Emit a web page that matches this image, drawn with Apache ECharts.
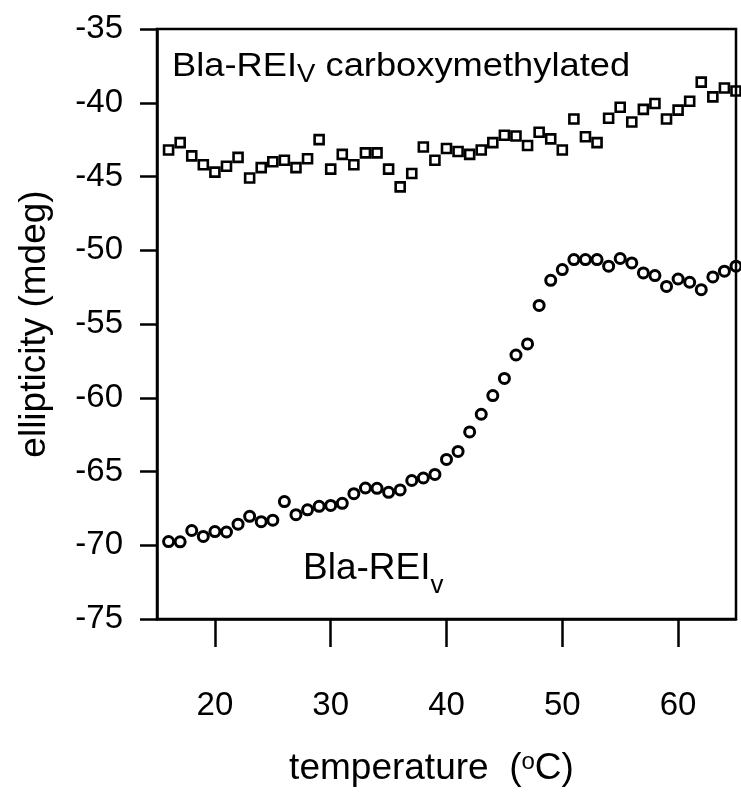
<!DOCTYPE html>
<html>
<head>
<meta charset="utf-8">
<script src="https://cdn.jsdelivr.net/npm/echarts@6/dist/echarts.min.js"></script>
<style>
html,body{margin:0;padding:0;background:#fff;}
#chart{width:741px;height:799px;}
</style>
</head>
<body>
<div id="chart"></div>
<script>
// temperature (°C)
var temperature = [16,17,18,19,20,21,22,23,24,25,26,27,28,29,30,31,32,33,34,35,36,37,38,39,40,41,42,43,44,45,46,47,48,49,50,51,52,53,54,55,56,57,58,59,60,61,62,63,64,65];
// ellipticity (mdeg), Bla-REIv carboxymethylated (squares)
var carboxymethylated = [-43.2,-42.7,-43.6,-44.2,-44.7,-44.3,-43.7,-45.1,-44.4,-44.0,-43.9,-44.4,-43.8,-42.5,-44.5,-43.5,-44.2,-43.4,-43.4,-44.5,-45.7,-44.8,-43.0,-43.9,-43.1,-43.3,-43.5,-43.2,-42.7,-42.2,-42.25,-42.9,-42.0,-42.45,-43.2,-41.1,-42.3,-42.7,-41.05,-40.3,-41.3,-40.45,-40.05,-41.1,-40.5,-39.9,-38.6,-39.6,-39.0,-39.2];
// ellipticity (mdeg), Bla-REIv (circles)
var blaREIv = [-69.75,-69.77,-69.0,-69.4,-69.07,-69.1,-68.57,-68.04,-68.4,-68.3,-67.04,-67.93,-67.6,-67.36,-67.3,-67.16,-66.5,-66.12,-66.14,-66.41,-66.25,-65.61,-65.44,-65.2,-64.18,-63.64,-62.32,-61.12,-59.85,-58.69,-57.1,-56.35,-53.74,-52.04,-51.31,-50.63,-50.63,-50.63,-51.08,-50.56,-50.86,-51.54,-51.72,-52.45,-51.95,-52.17,-52.67,-51.81,-51.42,-51.08];
var xTicks = [20,30,40,50,60];
var yMin = -75, yMax = -35, yStep = 5;
var xMin = 15, xMax = 65;

var FONT = '"Liberation Sans", Arial, Helvetica, sans-serif';

function pairs(xs, ys){ return xs.map(function(x,i){ return [x, ys[i]]; }); }

var chart = echarts.init(document.getElementById('chart'), null, {renderer:'canvas'});
chart.setOption({
  animation: false,
  backgroundColor: '#fff',
  grid: {left:157, right:5, top:29, bottom:180, show:true, borderColor:'#000', borderWidth:2.5, backgroundColor:'transparent'},
  xAxis: {
    type:'value', min:xMin, max:xMax,
    splitLine:{show:false},
    axisLine:{show:true, onZero:false, lineStyle:{color:'#000', width:2.5}},
    axisTick:{show:true, inside:false, length:28, customValues:xTicks, lineStyle:{color:'#000', width:2.5}},
    axisLabel:{show:true, customValues:xTicks, margin:70, fontSize:33, color:'#000', fontFamily:FONT},
    name:'{a|temperature  (}{s|o}{a|C)}',
    nameLocation:'middle', nameGap:131,
    nameTextStyle:{
      padding:[0,30,0,0],
      rich:{
        a:{fontSize:37, fontFamily:FONT, color:'#000', verticalAlign:'top'},
        s:{fontSize:24, fontFamily:FONT, color:'#000', verticalAlign:'top'}
      }
    }
  },
  yAxis: {
    type:'value', min:yMin, max:yMax, interval:yStep,
    splitLine:{show:false},
    axisLine:{show:true, onZero:false, lineStyle:{color:'#000', width:2.5}},
    axisTick:{show:true, inside:false, length:17, lineStyle:{color:'#000', width:2.5}},
    axisLabel:{show:true, margin:34, fontSize:33, color:'#000', fontFamily:FONT},
    name:'ellipticity (mdeg)', nameLocation:'middle', nameGap:104, nameRotate:90,
    nameTextStyle:{fontSize:37, fontFamily:FONT, color:'#000'}
  },
  series: [
    {
      name:'Bla-REIv carboxymethylated', type:'scatter', symbol:'rect', symbolSize:9,
      data: pairs(temperature, carboxymethylated),
      itemStyle:{color:'rgba(0,0,0,0)', borderColor:'#000', borderWidth:2.6, opacity:1}
    },
    {
      name:'Bla-REIv', type:'scatter', symbol:'circle', symbolSize:10,
      data: pairs(temperature, blaREIv),
      itemStyle:{color:'rgba(0,0,0,0)', borderColor:'#000', borderWidth:3, opacity:1}
    }
  ],
  graphic: [
    {
      type:'text', left:172, top:50, silent:true, scaleX:1.1,
      style:{
        text:'{a|Bla-REI}{s|V}{a| carboxymethylated}',
        rich:{
          a:{fontSize:33, fontFamily:FONT, fill:'#000', verticalAlign:'top'},
          s:{fontSize:25, fontFamily:FONT, fill:'#000', verticalAlign:'top', padding:[13,0,0,0]}
        }
      }
    },
    {
      type:'text', left:303, top:550, silent:true,
      style:{
        text:'{a|Bla-REI}{s|v}',
        rich:{
          a:{fontSize:37, fontFamily:FONT, fill:'#000', verticalAlign:'top'},
          s:{fontSize:26, fontFamily:FONT, fill:'#000', verticalAlign:'top', padding:[23,0,0,0]}
        }
      }
    }
  ]
});
</script>
</body>
</html>
